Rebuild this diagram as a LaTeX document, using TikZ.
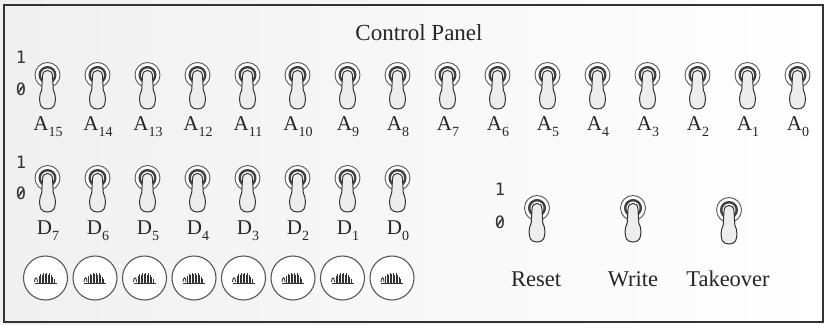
\documentclass[tikz,border=0pt]{standalone}
\usepackage{fontspec}
\setmainfont{Liberation Serif}
\newfontfamily\digfont{DejaVu Sans Mono}
\newcommand\lowsub[1]{\raisebox{-0.3em}{\fontsize{14}{16}\selectfont #1}}
\tikzset{
  lbl/.style={anchor=base, font=\fontsize{21}{24}\selectfont, text=black!85, inner sep=0pt},
  word/.style={anchor=base, font=\fontsize{22.5}{26}\selectfont, text=black!85, inner sep=0pt},
  title/.style={anchor=base, font=\fontsize{23}{27}\selectfont, text=black!85, inner sep=0pt},
  bit/.style={font=\digfont\fontsize{17}{20}\selectfont, text=black!80, inner sep=0pt},
  zslash/.style={black!80, line width=1.3pt},
  toggle/.pic={
    \draw[black!65, line width=0.9pt, fill=white] (0,0) circle[radius=12.5pt];
    \draw[black!75, line width=2.4pt] (0,0) circle[radius=7.8pt];
    \draw[black!80, line width=1pt, fill=black!7]
      (-5,1) .. controls (-5,-6.5) and (5,-6.5) .. (5,1)
      -- (5.8,15) .. controls (8.5,20) and (8.5,27) .. (6.5,31)
      .. controls (4.5,35) and (-4.5,35) .. (-6.5,31)
      .. controls (-8.5,27) and (-8.5,20) .. (-5.8,15) -- cycle;
  },
  lamp/.pic={
    \draw[black!65, line width=1.1pt, fill=white] (0,0) circle[radius=22pt];
    \draw[black!80, line width=0.9pt] (-11,5) -- (11,5);
    \draw[black!80, line width=0.9pt] (-11,4) .. controls (-11,-1) and (-8,-2) .. (-8,4);
    \foreach \x/\h in {-6.5/7,-5/9,-3.5/8,-2/10,-0.5/9,1/10,2.5/8,4/10,5.5/8,7/6,8.5/4}
      \draw[black!80, line width=0.8pt] (\x,5) -- (\x,5-\h);
  }
}
\begin{document}
\begin{tikzpicture}[x=1pt,y=-1pt]
\useasboundingbox (0,0) rectangle (827,324);
\shade[left color=black!6, right color=white] (0,0) rectangle (827,324);
\draw[black!80, line width=2pt] (4,5) rectangle (823,322);
\node[title] (title) at (419,40) {Control Panel};
% address row
\node[bit] (a1) at (21,57) {1};
\node[bit] (a0) at (21,89) {0};
\foreach \i in {0,...,15} {
  \pgfmathtruncatemacro\n{15-\i}
  \pic at (47.5+50*\i,75) {toggle};
  \node[lbl] (A\n) at (48+50*\i,130) {A\lowsub{\n}};
}
% data row
\node[bit] (d1) at (21,162) {1};
\node[bit] (d0) at (21,193) {0};
\foreach \i in {0,...,7} {
  \pgfmathtruncatemacro\n{7-\i}
  \pic at (47.5+50*\i,178) {toggle};
  \node[lbl] (D\n) at (48+50*\i,234) {D\lowsub{\n}};
  \pic at (45.5+49.5*\i,278) {lamp};
}
% control switches
\node[bit] (c1) at (500,189) {1};
\node[bit] (c0) at (500,222) {0};
\foreach \z in {a0,d0,c0}
  \draw[zslash] ([shift={(-2.6,3.8)}]\z.center) -- ([shift={(2.6,-3.8)}]\z.center);
\pic at (537,208) {toggle};
\pic at (633,208) {toggle};
\pic at (729,210) {toggle};
\node[word] (reset) at (536,286) {Reset};
\node[word] (write) at (633,286) {Write};
\node[word] (takeover) at (728,286) {Takeover};
\end{tikzpicture}
\end{document}
